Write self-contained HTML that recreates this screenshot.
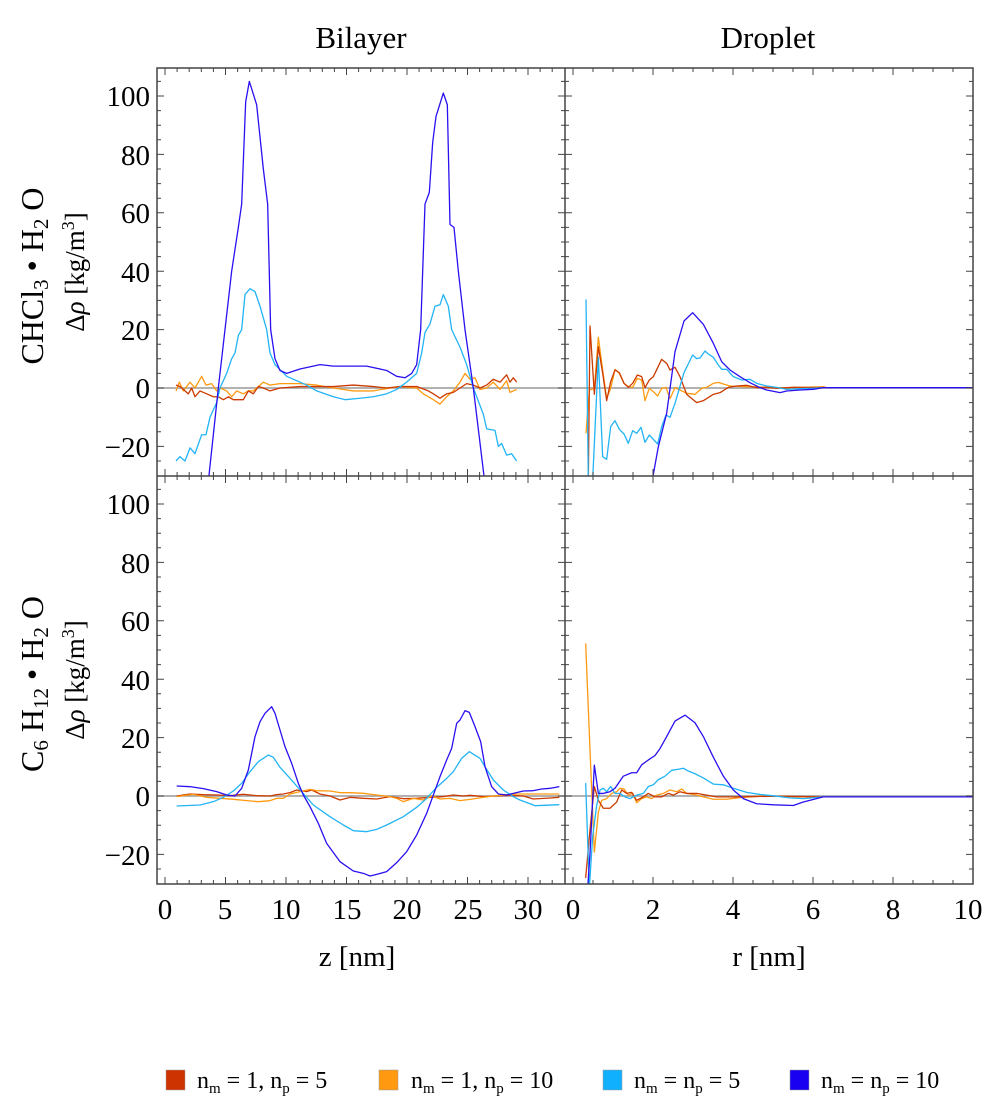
<!DOCTYPE html>
<html><head><meta charset="utf-8"><style>
html,body{margin:0;padding:0;background:#fff;}
svg{display:block;font-family:"Liberation Serif",serif;}
.s{fill:none;stroke-width:1.3;vector-effect:non-scaling-stroke;stroke-linejoin:round;}
.r{stroke:#cc3a00}.o{stroke:#ff9a10}.c{stroke:#22b4f5}.b{stroke:#2a10f0}
</style></head><body>
<svg id="g" width="1000" height="1110" viewBox="0 0 1000 1110" xmlns="http://www.w3.org/2000/svg">
<defs>
<clipPath id="ctl"><rect x="157" y="68" width="408" height="408"/></clipPath>
<clipPath id="ctr"><rect x="565" y="68" width="408" height="408"/></clipPath>
<clipPath id="cbl"><rect x="157" y="476" width="408" height="408"/></clipPath>
<clipPath id="cbr"><rect x="565" y="476" width="408" height="408"/></clipPath>
</defs>
<g id="zero" stroke="#999" stroke-width="1.4">
<line x1="157" y1="388" x2="973" y2="388"/>
<line x1="157" y1="796" x2="973" y2="796"/>
</g>
<g clip-path="url(#ctl)"><g transform="translate(100,388) scale(0.33333,-2.92)">
<polyline class="s o" points="228,-1 238,2 250,-1 270,2 285,0 305,4 318,1 335,1.5 350,-1 360,0 380,-1 395,-3 410,-1 430,-2 445,-1 460,-1 480,1 490,2 510,1 540,1.5 600,1.5 650,1 700,0 760,-1 820,-1 870,0 900,0.5 950,0 970,-2 1000,-4 1020,-5.5 1040,-3 1060,-1 1080,2 1095,5 1110,3 1125,3.5 1140,-0.5 1160,0 1180,2 1200,-0.5 1220,2.5 1230,-1.5 1250,-0.5"/>
<polyline class="s r" points="228,1 240,0.5 255,-1 265,-2 275,0 285,-3 300,-1 320,-2 340,-3 355,-3 370,-4 385,-3 400,-4 430,-4 445,-1 460,-2 475,0.5 490,0 510,-1 540,0 600,0.5 700,0.5 760,1 820,0.5 860,0 900,0.5 950,0.5 985,-1 1000,-2 1020,-3.5 1040,-2 1060,-1.5 1080,0 1100,1.5 1120,1 1140,0 1160,1 1180,3 1200,2 1220,4.5 1230,2 1240,3.5 1250,2"/>
<polyline class="s c" points="228,-25 240,-23.5 255,-25 270,-20.5 285,-22.5 305,-16 318,-16 330,-10 350,-5 360,0 380,5 395,10 405,12 415,18 425,20 435,32 450,34 465,33 480,28 500,20 510,12 525,8 560,4 620,1 650,-1 700,-3 735,-4 780,-3.5 820,-3 860,-2 890,-0.5 920,2 950,5 965,12 975,19 990,22 1005,28 1020,28.5 1030,32 1045,28 1055,20 1080,14 1100,8 1120,0 1140,-6 1150,-9 1160,-14 1185,-14.5 1195,-20 1205,-19 1220,-23 1235,-22.5 1250,-25"/>
<polyline class="s b" points="325,-32 355,0 375,20 395,40 415,55 425,63 437,98 448,105 470,97 490,75 503,63 512,20 525,10 540,6 560,5 600,6.5 660,8 700,7.5 740,7.5 800,7.5 860,6 890,4 915,3.5 935,5 950,8 962,20 975,63 988,67 998,84 1008,93 1030,101 1042,97 1050,56 1062,55 1075,40 1095,20 1120,0 1154,-32"/>
</g></g>
<g clip-path="url(#ctr)"><g transform="translate(560,280) scale(0.33333)">
<polyline class="s o" points="78,460 88,330 103,325 115,172 128,270 140,355 152,325 165,268 178,280 192,310 205,320 218,322 232,295 245,300 255,362 268,325 280,335 293,348 305,325 318,322 330,356 345,323 360,330 380,340 405,343 425,325 440,322 460,310 475,307 490,312 510,318 560,320 650,323 700,323 790,320 800,323"/>
<polyline class="s r" points="85,600 90,138 103,343 115,200 128,280 140,362 152,305 165,270 178,278 192,310 205,322 218,310 232,285 245,290 255,323 268,300 280,290 305,238 320,250 330,270 345,262 360,290 380,343 410,368 430,362 460,343 480,338 505,322 530,318 560,316 590,323 620,322 650,325 700,322 790,323"/>
<polyline class="s c" points="78,58 85,600 98,600 115,232 128,530 140,538 152,440 165,422 178,448 192,462 205,490 218,452 230,460 243,442 255,487 268,465 280,478 293,492 305,440 318,405 330,412 345,370 372,278 398,225 410,236 420,234 435,213 445,222 460,232 475,255 485,268 500,268 520,290 545,300 570,298 590,310 620,318 650,322 680,328 720,326 760,325 790,323"/>
<polyline class="s b" points="277,600 295,500 320,400 345,215 372,123 398,98 430,133 460,190 485,245 510,270 540,290 570,308 600,323 620,330 660,338 680,333 720,330 760,328 790,323 1300,323"/>
</g></g>
<g clip-path="url(#cbl)"><g transform="translate(150,680) scale(0.33333)">
<polyline class="s r" points="80,348 120,342 160,344 200,345 240,347 280,343 320,347 360,348 380,344 400,342 420,338 440,330 470,335 485,330 510,342 540,348 570,360 600,352 640,355 680,357 720,350 760,356 800,355 840,352 880,350 910,345 940,348 960,346 1000,350 1040,348 1080,346 1120,348 1150,357 1200,354 1228,352"/>
<polyline class="s o" points="80,350 130,343 170,352 210,355 250,358 290,362 325,365 360,362 380,355 400,355 420,342 450,335 480,328 500,332 540,333 570,338 600,338 640,340 680,345 720,350 740,355 760,365 790,355 820,360 845,348 870,357 900,355 930,362 960,358 1000,352 1030,348 1060,345 1100,342 1150,342 1228,342"/>
<polyline class="s c" points="80,378 150,375 190,365 220,352 250,333 275,310 300,275 325,245 355,225 370,232 390,262 420,295 455,335 490,375 540,410 580,435 610,452 650,455 680,448 710,435 760,410 800,382 830,355 860,322 890,295 910,275 935,235 958,215 990,235 1005,260 1030,300 1060,330 1090,350 1110,360 1155,377 1228,374"/>
<polyline class="s b" points="80,318 120,320 160,326 200,335 230,345 255,348 275,325 295,270 315,170 330,125 345,100 365,80 375,100 390,150 405,200 425,250 445,310 460,345 480,380 505,430 530,490 570,545 610,573 640,580 660,588 680,583 710,575 740,548 770,515 800,465 830,400 850,345 870,290 890,240 905,205 920,130 930,120 945,92 958,97 975,140 992,185 1005,260 1025,320 1045,342 1070,345 1090,340 1120,333 1150,332 1175,327 1200,325 1228,320"/>
</g></g>
<g clip-path="url(#cbr)"><g transform="translate(540,440) scale(0.33333,0.3448)">
<polyline class="s o" points="137,590 150,900 163,1195 175,1080 185,1045 200,1040 215,1025 230,1020 240,1010 252,1012 265,1030 278,1025 290,1052 305,1040 320,1035 335,1040 350,1030 370,1025 390,1015 410,1020 425,1012 440,1025 470,1030 490,1035 520,1042 560,1042 600,1037 660,1033 720,1033 780,1035 850,1035"/>
<polyline class="s r" points="137,1270 150,1130 163,1005 175,1045 190,1068 210,1068 230,1050 245,1015 260,1025 275,1022 290,1045 310,1035 325,1025 345,1035 365,1035 385,1025 400,1030 420,1020 440,1025 470,1025 500,1030 530,1035 600,1035 700,1033 850,1035"/>
<polyline class="s c" points="137,995 148,1300 158,1150 170,1060 180,1015 190,1010 200,1020 212,1005 225,1025 240,1025 255,1035 270,1040 290,1030 310,1025 325,1005 340,1000 355,985 375,975 395,958 415,955 430,952 445,960 465,968 490,980 520,998 550,1000 580,1010 620,1022 660,1028 700,1032 750,1038 790,1040 850,1035"/>
<polyline class="s b" points="143,1300 150,1200 163,943 175,1025 190,1025 210,1020 225,1010 250,975 275,965 290,965 305,942 325,928 345,915 360,895 380,860 405,815 435,798 465,820 490,860 520,920 550,975 580,1015 610,1040 650,1055 700,1058 760,1060 790,1050 850,1035 1300,1035"/>
</g></g>
<g id="ticks" stroke="#444" stroke-width="1"></g>
<g fill="none" stroke="#444" stroke-width="1.5">
<rect x="157" y="68" width="816" height="816"/>
<line x1="565" y1="68" x2="565" y2="884"/>
<line x1="157" y1="476" x2="973" y2="476"/>
</g>
<g font-size="29" fill="#000" text-anchor="end">
<text x="150" y="106">100</text><text x="150" y="165">80</text><text x="150" y="223">60</text><text x="150" y="282">40</text><text x="150" y="340">20</text><text x="150" y="398">0</text><text x="150" y="457">−20</text>
<text x="150" y="514">100</text><text x="150" y="573">80</text><text x="150" y="631">60</text><text x="150" y="690">40</text><text x="150" y="748">20</text><text x="150" y="806">0</text><text x="150" y="865">−20</text>
</g>
<g font-size="29" fill="#000" text-anchor="middle">
<text x="165" y="919">0</text><text x="225" y="919">5</text><text x="286" y="919">10</text><text x="347" y="919">15</text><text x="407" y="919">20</text><text x="468" y="919">25</text><text x="528" y="919">30</text>
<text x="573" y="919">0</text><text x="653" y="919">2</text><text x="733" y="919">4</text><text x="813" y="919">6</text><text x="893" y="919">8</text><text x="968" y="919">10</text>
<text x="357" y="966" font-size="29">z [nm]</text><text x="769" y="966" font-size="29">r [nm]</text>
<text x="361" y="48" font-size="31">Bilayer</text><text x="768" y="48" font-size="31">Droplet</text>
<text transform="translate(43,276) rotate(-90)" font-size="32">CHCl<tspan font-size="21" dy="5">3</tspan><tspan dy="-5"> • H</tspan><tspan font-size="21" dy="5">2</tspan><tspan dy="-5"> O</tspan></text>
<text transform="translate(84,272) rotate(-90)" font-size="27">Δ<tspan font-style="italic">ρ</tspan> [kg/m<tspan font-size="18" dy="-10">3</tspan><tspan dy="10">]</tspan></text>
<text transform="translate(43,684) rotate(-90)" font-size="32">C<tspan font-size="21" dy="5">6</tspan><tspan dy="-5"> H</tspan><tspan font-size="21" dy="5">12</tspan><tspan dy="-5"> • H</tspan><tspan font-size="21" dy="5">2</tspan><tspan dy="-5"> O</tspan></text>
<text transform="translate(84,680) rotate(-90)" font-size="27">Δ<tspan font-style="italic">ρ</tspan> [kg/m<tspan font-size="18" dy="-10">3</tspan><tspan dy="10">]</tspan></text>
</g>
<g font-size="24" fill="#000">
<rect x="166" y="1070" width="19" height="20" fill="#cc3300" stroke="#999" stroke-width="0.5"/>
<text x="197" y="1088">n<tspan font-size="15" dy="5">m</tspan><tspan dy="-5"> = 1, n</tspan><tspan font-size="15" dy="5">p</tspan><tspan dy="-5"> = 5</tspan></text>
<rect x="379" y="1070" width="19" height="20" fill="#ff9a10" stroke="#999" stroke-width="0.5"/>
<text x="411" y="1088">n<tspan font-size="15" dy="5">m</tspan><tspan dy="-5"> = 1, n</tspan><tspan font-size="15" dy="5">p</tspan><tspan dy="-5"> = 10</tspan></text>
<rect x="603" y="1070" width="19" height="20" fill="#11b0ff" stroke="#999" stroke-width="0.5"/>
<text x="634" y="1088">n<tspan font-size="15" dy="5">m</tspan><tspan dy="-5"> = n</tspan><tspan font-size="15" dy="5">p</tspan><tspan dy="-5"> = 5</tspan></text>
<rect x="790" y="1070" width="19" height="20" fill="#1a00f0" stroke="#999" stroke-width="0.5"/>
<text x="821" y="1088">n<tspan font-size="15" dy="5">m</tspan><tspan dy="-5"> = n</tspan><tspan font-size="15" dy="5">p</tspan><tspan dy="-5"> = 10</tspan></text>
</g>
</svg>
<script>
(function(){
var g=document.getElementById('ticks'),d='';
function L(a,b,c,e){d+='M'+a+' '+b+'L'+c+' '+e;}
[[388,68,476],[796,476,884]].forEach(function(p){
 for(var v=-30;v<=110;v+=5){var y=p[0]-v*2.92;if(y<p[1]+0.5||y>p[2]-0.5)continue;var l=(v%20==0)?7:4;
  L(157,y,157+l,y);L(565-l,y,565+l,y);L(973-l,y,973,y);}
});
[[68,476],[476,884]].forEach(function(p,i){
 for(var z=0;z<=33;z++){var x=165+z*12.1;if(x>564)break;var l=(z%5==0)?7:4;
  if(i==0)L(x,68,x,68+l);else L(x,884-l,x,884);L(x,476-l,x,476+l);}
 for(var r=0;r<=20;r++){var x=573+r*20;var l=(r%4==0)?7:4;
  if(i==0)L(x,68,x,68+l);else L(x,884-l,x,884);L(x,476-l,x,476+l);}
});
var p=document.createElementNS('http://www.w3.org/2000/svg','path');p.setAttribute('d',d);g.appendChild(p);
})();
</script>
</body></html>
